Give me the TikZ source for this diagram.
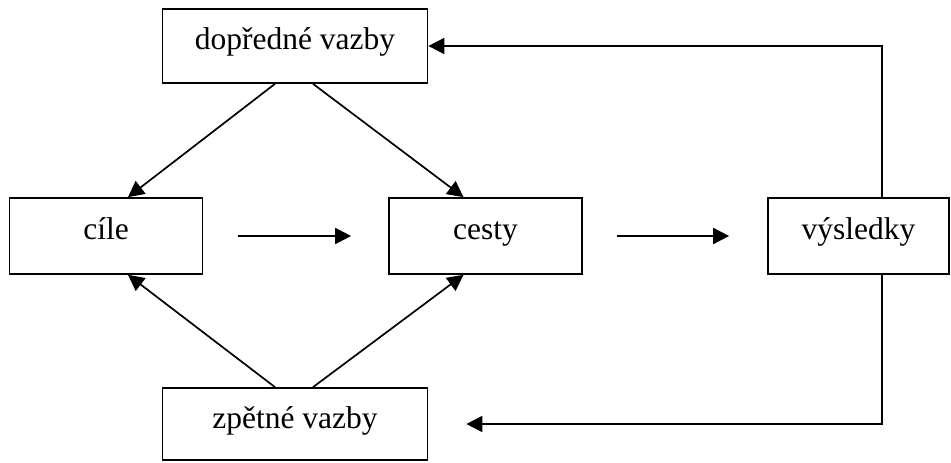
\documentclass[tikz,border=0pt]{standalone}
\usepackage{fontspec}
\setmainfont{Liberation Serif}
\usetikzlibrary{arrows.meta}
\usetikzlibrary{positioning}

\begin{document}
\begin{tikzpicture}[>={Triangle[length=16pt,width=16pt]},line width=1.7pt,x=1pt,y=1pt,
	box node/.style={rectangle,draw,inner sep=0pt,text height=18pt,text depth=10pt,
		font=\fontsize{31.5}{38}\selectfont},
	wide node/.style={box node,minimum width=265pt,minimum height=74pt},
	small node/.style={box node,minimum width=193pt,minimum height=76pt}]
	
	\useasboundingbox (-106,-227) rectangle (845,236);
	\node[small node] (cile) {cíle};
	\node[small node] (cesty) [right of=cile,node distance=379.5pt] {cesty};
	\node[small node,minimum width=181pt] (vysledky) [right of=cesty,node distance=373pt] {výsledky};
	\node[wide node] (dopredne) [above of=cile,node distance=190pt,xshift=189pt] {dopředné vazby};
	\node[wide node,minimum height=72pt] (zpetne) [below of=dopredne,node distance=378pt] {zpětné vazby};
	
	\coordinate (c1) at ([xshift=35pt]cile.east);
	\coordinate (c2) at ([xshift=-37pt]cesty.west);
	\coordinate (c3) at ([xshift=34pt]cesty.east);
	\coordinate (c4) at ([xshift=-38pt]vysledky.west);
	\coordinate (c5) at ([xshift=38pt]zpetne.east);
	
	\draw[->] ([xshift=-20pt]dopredne.south) -- ([xshift=22pt]cile.north);
	\draw[->] ([xshift=18pt]dopredne.south) -- ([xshift=-22pt]cesty.north);
	\draw[->] ([xshift=-20pt]zpetne.north) -- ([xshift=22pt]cile.south);
	\draw[->] ([xshift=18pt]zpetne.north) -- ([xshift=-22pt]cesty.south);
	\draw[->] (c1) -- (c2);
	\draw[->] (c3) -- (c4);
	\draw[->] ([xshift=23.5pt]vysledky.north) |- (dopredne.east);
	\draw[->] ([xshift=23.5pt]vysledky.south) |- (c5);
\end{tikzpicture}
\end{document}
